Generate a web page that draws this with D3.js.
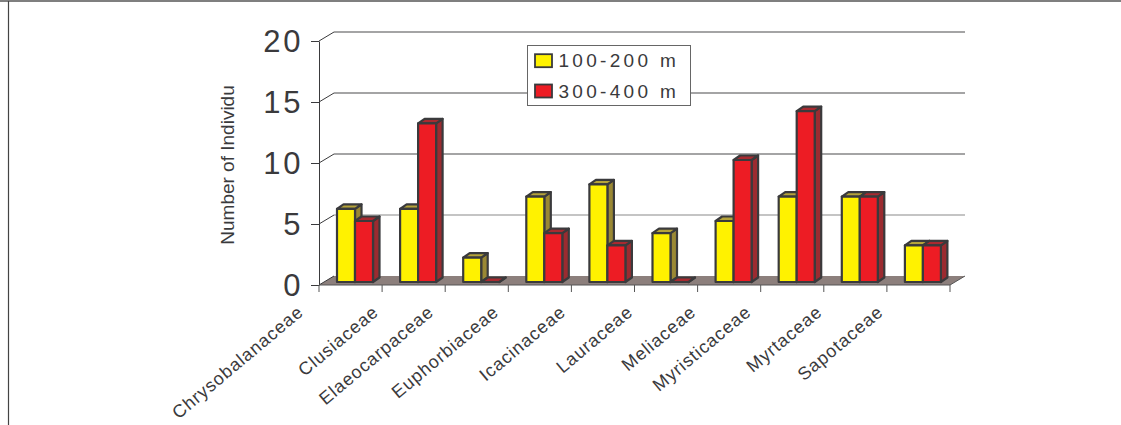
<!DOCTYPE html>
<html>
<head>
<meta charset="utf-8">
<script src="https://cdn.jsdelivr.net/npm/d3@7"></script>
<style>
html,body{margin:0;padding:0;background:#fff;overflow:hidden}
svg{display:block}
text{font-family:"Liberation Sans",Arial,sans-serif;fill:#3a3a3c}
</style>
</head>
<body>
<svg id="chart" width="1121" height="425"></svg>
<script>
// Tree families and individual counts in two elevation bands
const families = ["Chrysobalanaceae","Clusiaceae","Elaeocarpaceae","Euphorbiaceae","Icacinaceae","Lauraceae","Meliaceae","Myristicaceae","Myrtaceae","Sapotaceae"];
const low = [6,6,2,7,8,4,5,7,7,3];
const high = [5,13,0,4,3,0,10,14,7,3];
const seriesNames = ["100-200 m","300-400 m"];
const yTicks = [0,5,10,15,20];
const yTitle = "Number of Individu";

const ink = "#3a3a3c";
const fills = [
  {front:"#fff200", top:"#b5a33a", side:"#9a8834"},
  {front:"#ed1c24", top:"#a82a30", side:"#9b2b30"}
];
const svg = d3.select("#chart");

// Frame lines along the top and left
svg.append("line").attr("x1",0).attr("x2",1121).attr("y1",1).attr("y2",1).attr("stroke","#555").attr("stroke-width",1.6);
svg.append("line").attr("x1",8.5).attr("x2",8.5).attr("y1",1).attr("y2",425).attr("stroke","#444").attr("stroke-width",1.2);

const x = d3.scaleBand().domain(families).range([319,950]);
const y = d3.scaleLinear().domain([0,20]).range([285,41]);
const wallDx = 15, wallDy = -9;      // offset from the front plane to the back wall
const barDx = 6.5, barDy = -4.5;     // depth of each bar
const baseDy = -3;                   // bars stand slightly behind the front edge
const barLeft = 18, barW = 18;

// Floor
const floor = [[x.range()[0],y(0)],[x.range()[1],y(0)],[x.range()[1]+wallDx,y(0)+wallDy],[x.range()[0]+wallDx,y(0)+wallDy]];
svg.append("polygon").attr("points",floor.join(" ")).attr("fill","#8c7f7c");

// Back-wall gridlines and their diagonal links to the axis
yTicks.filter(d=>d>0).forEach(d=>{
  const c = d>=10 ? "#4a4a4c" : "#8a8a8a";
  svg.append("line").attr("x1",x.range()[0]+wallDx).attr("x2",x.range()[1]+wallDx)
     .attr("y1",y(d)+wallDy).attr("y2",y(d)+wallDy).attr("stroke",c).attr("stroke-width",1.1);
});
yTicks.forEach(d=>{
  svg.append("line").attr("x1",x.range()[0]).attr("x2",x.range()[0]+wallDx)
     .attr("y1",y(d)).attr("y2",y(d)+wallDy).attr("stroke",ink).attr("stroke-width",1);
});

// Value axis
const yAxis = d3.axisLeft(y).tickValues(yTicks).tickSize(8).tickPadding(8).tickSizeOuter(0);
const gy = svg.append("g").attr("transform",`translate(${x.range()[0]},0)`).call(yAxis);
gy.selectAll("line,path").attr("stroke",ink).attr("stroke-width",1);
gy.selectAll("text").attr("font-size",31).attr("letter-spacing",2.6).attr("y",1).style("font-family",'"Liberation Sans",Arial,sans-serif').attr("fill",ink);

// Category ticks under the floor edge
const edges = families.map(f=>x(f)).concat([x.range()[1]]);
svg.selectAll(".cat-tick").data(edges).join("line").attr("class","cat-tick")
  .attr("x1",d=>d).attr("x2",d=>d).attr("y1",y(0)).attr("y2",y(0)+7).attr("stroke","#555").attr("stroke-width",1);
svg.append("line").attr("x1",x.range()[0]).attr("x2",x.range()[1]).attr("y1",y(0)).attr("y2",y(0)).attr("stroke","#555").attr("stroke-width",1);
svg.append("line").attr("x1",x.range()[1]).attr("x2",x.range()[1]+wallDx).attr("y1",y(0)).attr("y2",y(0)+wallDy).attr("stroke","#555").attr("stroke-width",1);

// One extruded bar: side, top, then front face
function bar(g, left, value, c){
  const b = y(0)+baseDy, t = y(value)+baseDy, r = left+barW;
  const poly = pts => g.append("polygon").attr("points",pts.join(" "))
    .attr("stroke",ink).attr("stroke-width",2.2).attr("stroke-linejoin","round");
  poly([[r,t],[r+barDx,t+barDy],[r+barDx,b+barDy],[r,b]]).attr("fill",c.side);
  poly([[left,t],[left+barDx,t+barDy],[r+barDx,t+barDy],[r,t]]).attr("fill",c.top);
  poly([[left,t],[r,t],[r,b],[left,b]]).attr("fill",c.front);
}
families.forEach((f,i)=>{
  const g = svg.append("g").attr("class","group");
  bar(g, x(f)+barLeft, low[i], fills[0]);
  bar(g, x(f)+barLeft+barW, high[i], fills[1]);
});

// Slanted category labels; longer names sit further left of their band
svg.selectAll(".cat").data(families).join("text").attr("class","cat")
  .attr("text-anchor","end").attr("font-size",18).attr("letter-spacing",0.9)
  .attr("transform",f=>`translate(${x(f)+x.bandwidth()/2-(14+2*f.length)},${y(0)+29}) rotate(-40)`)
  .text(f=>f);

// Axis title
svg.append("text").attr("transform","translate(234,165) rotate(-90)")
  .attr("text-anchor","middle").attr("font-size",19).text(yTitle);

// Legend
const lg = svg.append("g").attr("transform","translate(527.5,45.5)");
lg.append("rect").attr("width",163).attr("height",60).attr("fill","#fff").attr("stroke","#666").attr("stroke-width",1);
seriesNames.forEach((name,i)=>{
  const yy = 15.2 + i*30.3;
  lg.append("rect").attr("x",7.5).attr("y",yy-6.5).attr("width",17).attr("height",13)
    .attr("fill",fills[i].front).attr("stroke",ink).attr("stroke-width",1.8);
  lg.append("text").attr("x",31).attr("y",yy+6.5).attr("font-size",19).attr("letter-spacing",3.3).text(name);
});
</script>
</body>
</html>
